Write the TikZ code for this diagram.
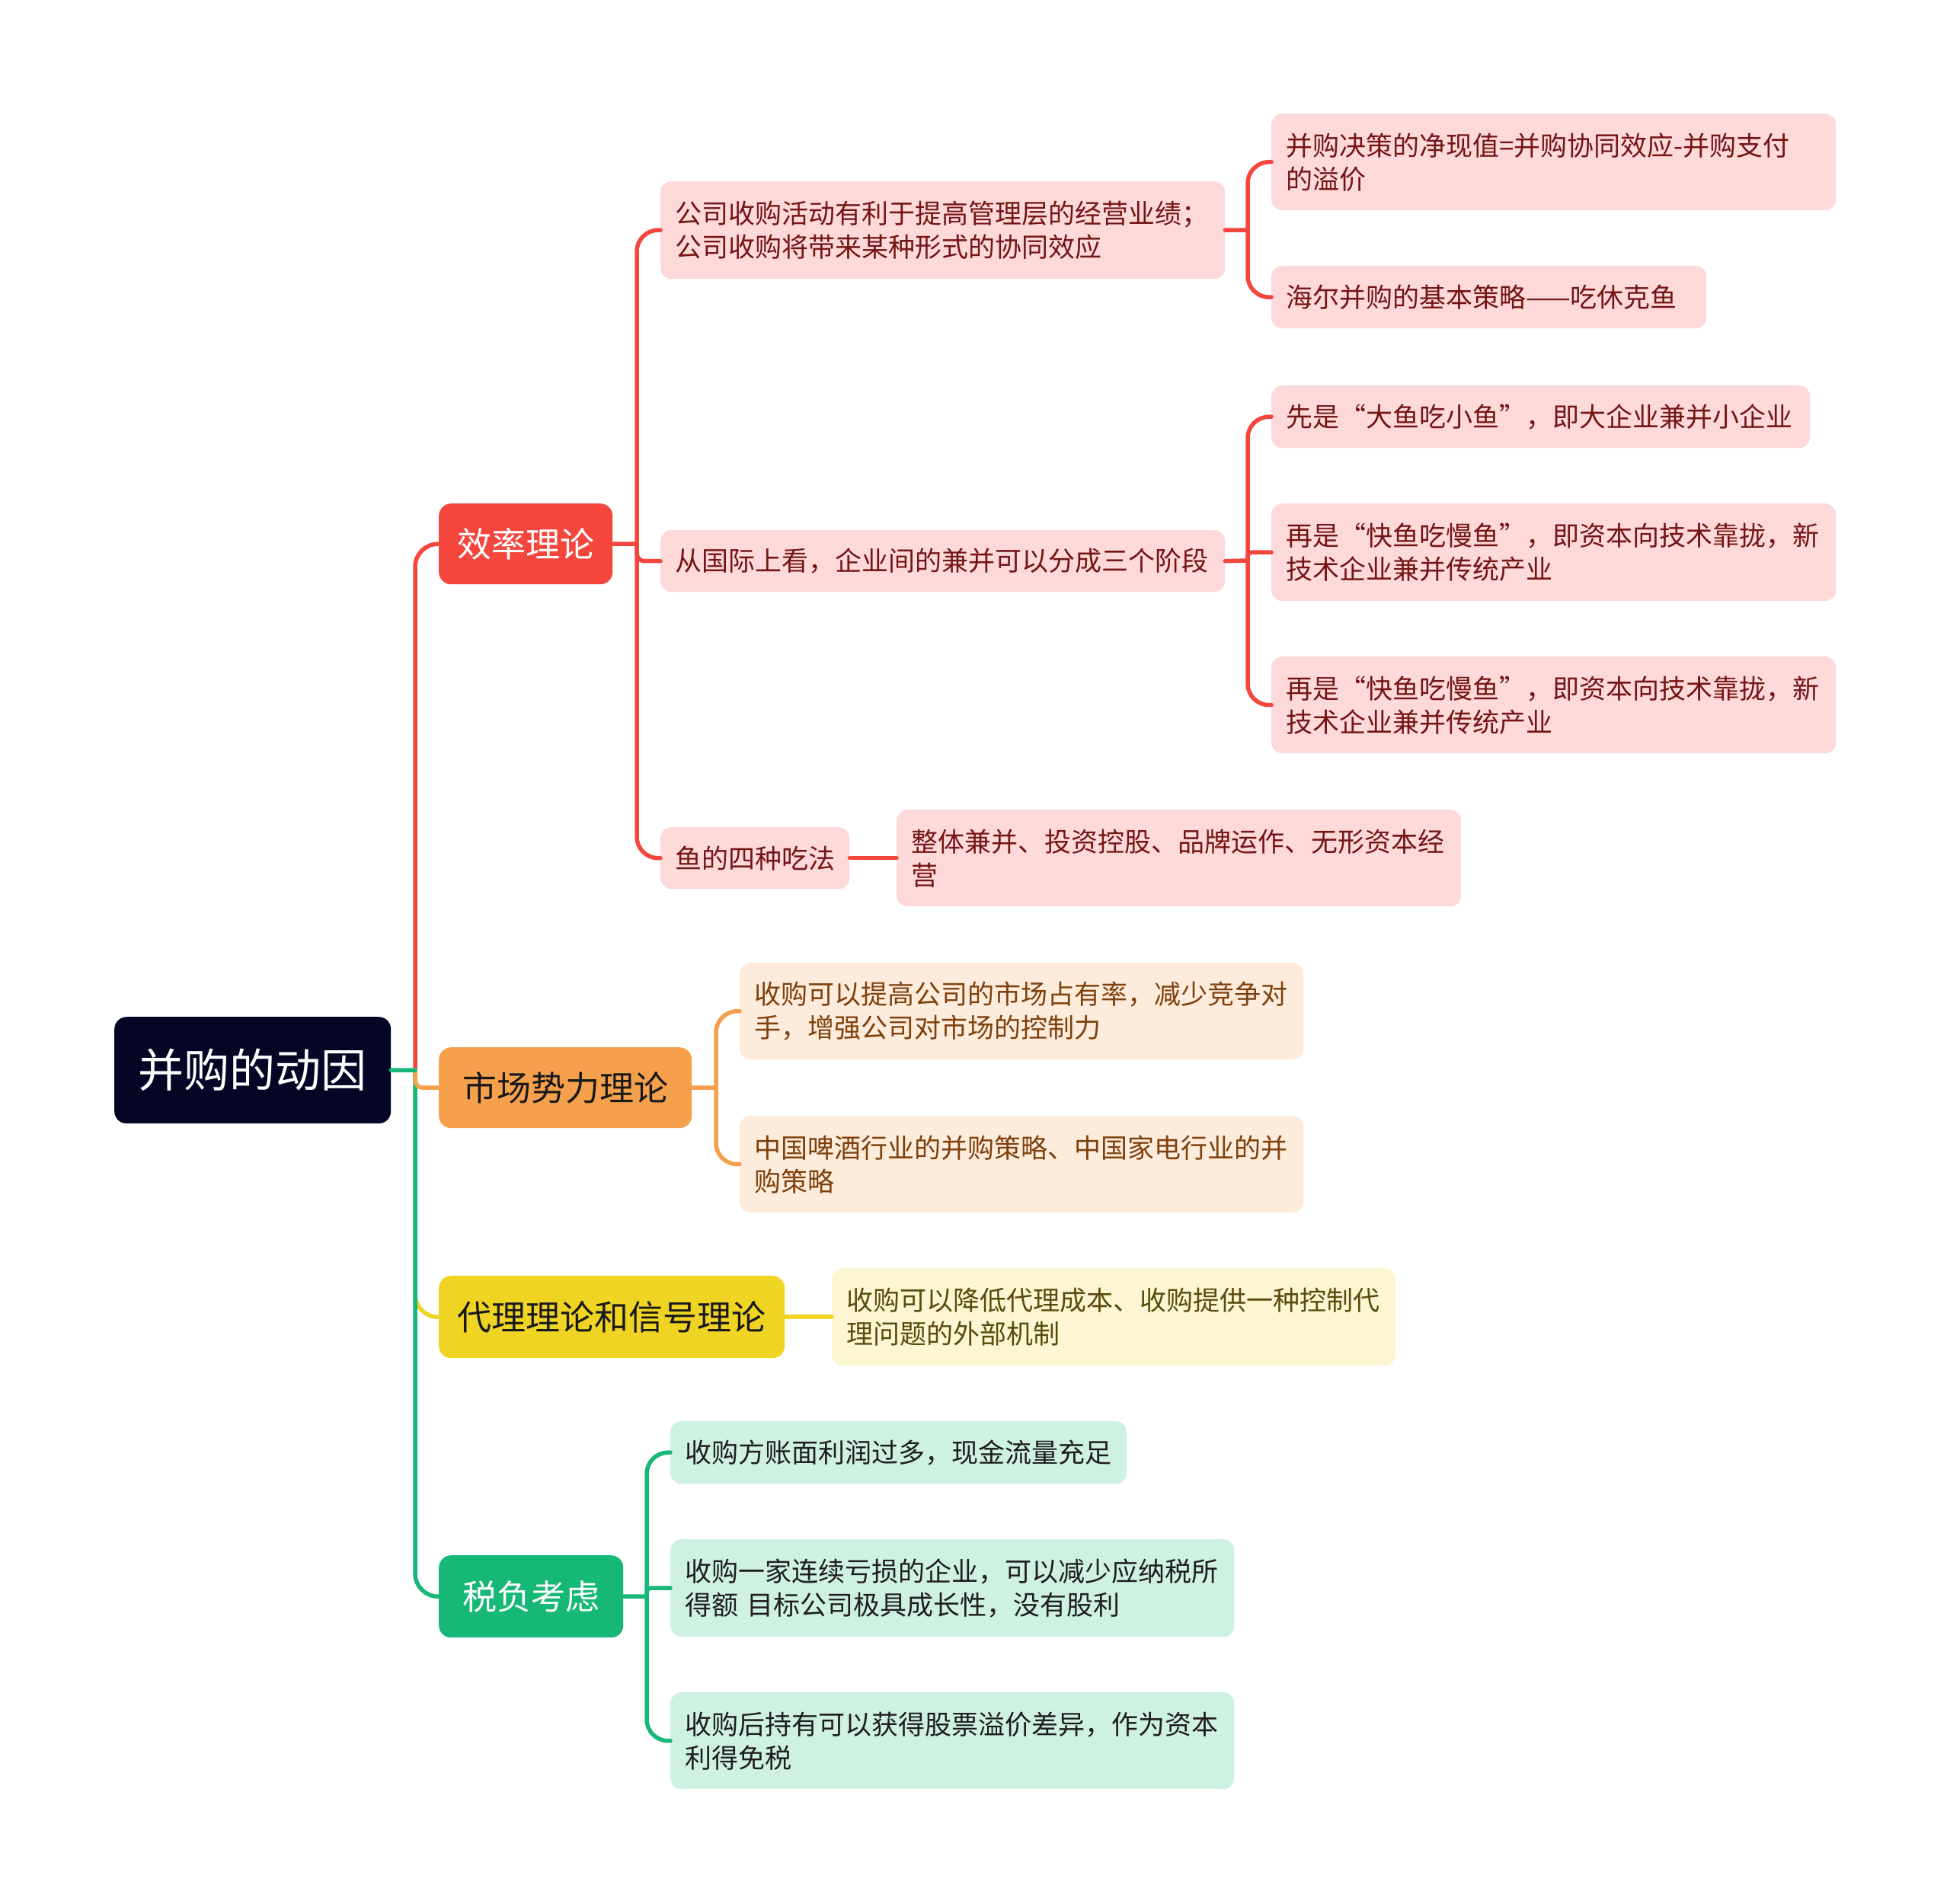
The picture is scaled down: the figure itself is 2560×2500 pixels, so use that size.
\documentclass[tikz,border=0pt]{standalone}
\usepackage{fontspec}
\setmainfont{Noto Sans CJK SC}
\definecolor{rootc}{HTML}{050526}
\definecolor{redc}{HTML}{F4463D}
\definecolor{orac}{HTML}{F5A04C}
\definecolor{yelc}{HTML}{F0D424}
\definecolor{grec}{HTML}{16B878}
\definecolor{redf}{HTML}{FDD9D9}
\definecolor{oraf}{HTML}{FDEBDC}
\definecolor{yelf}{HTML}{FCF6D3}
\definecolor{gref}{HTML}{CEF1E2}
\definecolor{redt}{HTML}{741515}
\definecolor{orat}{HTML}{7E400C}
\definecolor{yelt}{HTML}{5A4A0E}
\definecolor{gret}{HTML}{1E1E1E}
\tikzset{
  box/.style={rounded corners=14pt, anchor=north west, inner xsep=19pt, inner ysep=0pt, align=left, font=\fontsize{35}{44}\selectfont},
  rbox/.style={box, fill=redf, text=redt},
  obox/.style={box, fill=oraf, text=orat},
  ybox/.style={box, fill=yelf, text=yelt},
  gbox/.style={box, fill=gref, text=gret},
  topbox/.style={rounded corners=16pt, anchor=north west, inner sep=0pt, align=center, font=\fontsize{45}{54}\selectfont},
  conn/.style={line width=5.5pt, line cap=round},
  rl/.style={conn, draw=redc},
  ol/.style={conn, draw=orac},
  yl/.style={conn, draw=yelc},
  gl/.style={conn, draw=grec},
}
\begin{document}
\begin{tikzpicture}[x=1pt,y=-1pt]
\useasboundingbox[fill=white] (0,0) rectangle (2560,2500);

% root
\node[rounded corners=16pt, anchor=north west, inner sep=0pt, fill=rootc, text=white, minimum width=363pt, minimum height=140pt, font=\fontsize{60}{70}\selectfont] (root) at (150,1335) {并购的动因};

% level 1
\node[topbox, fill=redc, text=white, minimum width=228pt, minimum height=106pt] (e) at (576,661) {效率理论};
\node[topbox, fill=orac, text=black!90, minimum width=332pt, minimum height=106pt] (m) at (576,1375) {市场势力理论};
\node[topbox, fill=yelc, text=black!90, minimum width=454pt, minimum height=108pt] (d) at (576,1675) {代理理论和信号理论};
\node[topbox, fill=grec, text=white, minimum width=242pt, minimum height=108pt] (t) at (576,2042) {税负考虑};

% level 2 (efficiency)
\node[rbox, minimum width=741pt, minimum height=128pt, text width=703pt] (a1) at (867,238) {公司收购活动有利于提高管理层的经营业绩；\\公司收购将带来某种形式的协同效应};
\node[rbox, minimum width=741pt, minimum height=81pt, text width=703pt] (a2) at (867,696) {从国际上看，企业间的兼并可以分成三个阶段};
\node[rbox, minimum width=248pt, minimum height=81pt, text width=210pt] (a3) at (867,1086) {鱼的四种吃法};

% level 3
\node[rbox, minimum width=741pt, minimum height=127pt, text width=703pt] (b1) at (1669,149) {并购决策的净现值=并购协同效应-并购支付\\的溢价};
\node[rbox, minimum width=571pt, minimum height=82pt, text width=533pt] (b2) at (1669,349) {海尔并购的基本策略——吃休克鱼};
\node[rbox, minimum width=707pt, minimum height=82pt, text width=669pt] (b3) at (1669,506) {先是“大鱼吃小鱼”，即大企业兼并小企业};
\node[rbox, minimum width=741pt, minimum height=128pt, text width=703pt] (b4) at (1669,661) {再是“快鱼吃慢鱼”，即资本向技术靠拢，新\\技术企业兼并传统产业};
\node[rbox, minimum width=741pt, minimum height=127pt, text width=703pt] (b5) at (1669,862) {再是“快鱼吃慢鱼”，即资本向技术靠拢，新\\技术企业兼并传统产业};
\node[rbox, minimum width=741pt, minimum height=127pt, text width=703pt] (c1) at (1177,1063) {整体兼并、投资控股、品牌运作、无形资本经\\营};

% market
\node[obox, minimum width=740pt, minimum height=127pt, text width=702pt] (m1) at (971,1264) {收购可以提高公司的市场占有率，减少竞争对\\手，增强公司对市场的控制力};
\node[obox, minimum width=740pt, minimum height=127pt, text width=702pt] (m2) at (971,1465) {中国啤酒行业的并购策略、中国家电行业的并\\购策略};

% agency
\node[ybox, minimum width=740pt, minimum height=128pt, text width=702pt] (d1) at (1092,1665) {收购可以降低代理成本、收购提供一种控制代\\理问题的外部机制};

% tax
\node[gbox, minimum width=599pt, minimum height=82pt, text width=561pt] (t1) at (880,1866) {收购方账面利润过多，现金流量充足};
\node[gbox, minimum width=740pt, minimum height=128pt, text width=702pt] (t2) at (880,2021) {收购一家连续亏损的企业，可以减少应纳税所\\得额 目标公司极具成长性，没有股利};
\node[gbox, minimum width=740pt, minimum height=127pt, text width=702pt] (t3) at (880,2222) {收购后持有可以获得股票溢价差异，作为资本\\利得免税};

% junction coordinates
\coordinate (rj) at (545,1405);
\coordinate (ej) at (836,714);
\coordinate (a1j) at (1638,302);
\coordinate (a2j) at (1638,736);
\coordinate (mj) at (940,1428);
\coordinate (tj) at (849,2096);

% root connectors
\draw[rl, rounded corners=30pt] (rj) |- (e.west);
\draw[yl, rounded corners=30pt] (rj) |- (d.west);
\draw[gl, rounded corners=30pt] (rj) |- (t.west);
\draw[ol, rounded corners=10pt] (rj) |- (m.west);
\draw[gl] (root.east) -- (rj);

% efficiency
\draw[rl] (e.east) -- (ej);
\draw[rl, rounded corners=28pt] (ej) |- (a1.west);
\draw[rl, rounded corners=10pt] (ej) |- (a2.west);
\draw[rl, rounded corners=28pt] (ej) |- (a3.west);
\draw[rl] (a1.east) -- (a1j);
\draw[rl, rounded corners=28pt] (a1j) |- (b1.west);
\draw[rl, rounded corners=28pt] (a1j) |- (b2.west);
\draw[rl] (a2.east) -- (a2j);
\draw[rl, rounded corners=28pt] (a2j) |- (b3.west);
\draw[rl, rounded corners=5pt] (a2j) |- (b4.west);
\draw[rl, rounded corners=28pt] (a2j) |- (b5.west);
\draw[rl] (a3.east) -- (c1.west);

% market
\draw[ol] (m.east) -- (mj);
\draw[ol, rounded corners=28pt] (mj) |- (m1.west);
\draw[ol, rounded corners=28pt] (mj) |- (m2.west);

% agency
\draw[yl] (d.east) -- (d1.west);

% tax
\draw[gl] (t.east) -- (tj);
\draw[gl, rounded corners=28pt] (tj) |- (t1.west);
\draw[gl, rounded corners=5pt] (tj) |- (t2.west);
\draw[gl, rounded corners=28pt] (tj) |- (t3.west);
\end{tikzpicture}
\end{document}
